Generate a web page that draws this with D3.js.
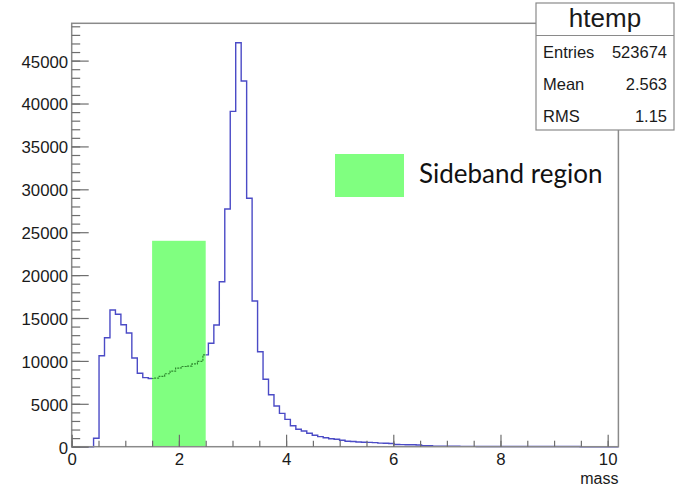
<!DOCTYPE html>
<html>
<head>
<meta charset="utf-8">
<script src="https://cdn.jsdelivr.net/npm/d3@7"></script>
<style>
    html, body { margin: 0; padding: 0; background: #ffffff; }
    svg { display: block; font-family: "Liberation Sans", Arial, sans-serif; }
</style>
</head>
<body>
<div id="chart"></div>
<script>
// ============================================================================
// HTEMP - mass histogram with sideband region
// ============================================================================

// Histogram binning (100 bins over the drawn x range)
const xRange = [0, 10.2];
const nBins = 100;

// Bin contents, bin 0 first
const counts = [
    0, 0, 0, 0, 980, 10600, 12700, 15930, 15430, 14220,
    13250, 10340, 8560, 8050, 7950, 8000, 8200, 8500, 8800, 9150,
    9350, 9400, 9650, 9950, 10700, 12050, 14180, 19230, 27700, 39090,
    47090, 42620, 28950, 16980, 11070, 7860, 6060, 4740, 3890, 3190,
    2450, 2030, 1830, 1560, 1330, 1170, 1050, 930, 860, 750,
    630, 600, 550, 520, 500, 480, 420, 400, 380, 260,
    240, 230, 220, 200, 130, 110, 70, 60, 60, 50,
    50, 40, 40, 40, 30, 25, 25, 20, 20, 20,
    20, 20, 20, 20, 15, 15, 15, 15, 15, 15,
    15, 15, 15, 0, 0, 0, 0, 0, 0, 0
];

// Sideband region marker
const sideband = [1.5, 2.5];
const sidebandHeight = 24000;

// Axis ticks
const xMajorTicks = [0, 2, 4, 6, 8, 10];
const xMinorTicks = d3.range(0, 10.21, 0.5);
const yMajorTicks = [0, 5000, 10000, 15000, 20000, 25000, 30000, 35000, 40000, 45000];
const yMinorTicks = d3.range(0, 49001, 1000);
const yMax = 49350;

// Stats box
const statsTitle = 'htemp';
const statsLabels = ['Entries', 'Mean', 'RMS'];
const statsValues = ['523674', '2.563', '1.15'];

const width = 679;
const height = 486;
const frame = { left: 71.7, right: 618.4, top: 23.3, bottom: 446.7 };

const COLORS = {
    line: '#4b4bc6',
    axis: '#8a8a8a',
    tick: '#6e6e6e',
    text: '#1a1a1a',
    green: '#80ff80',
    greenLine: '#2f8a2f'
};

const svg = d3.select('#chart').append('svg')
    .attr('width', width).attr('height', height);

svg.append('rect')
    .attr('width', width).attr('height', height)
    .attr('fill', '#ffffff');

const xScale = d3.scaleLinear().domain(xRange).range([frame.left, frame.right]);
const yScale = d3.scaleLinear().domain([0, yMax]).range([frame.bottom, frame.top]);

// Step outline of the histogram
const binWidth = (xRange[1] - xRange[0]) / nBins;
const stepPoints = [[xRange[0], 0]];
counts.forEach((c, i) => {
    const x0 = xRange[0] + i * binWidth;
    stepPoints.push([x0, c], [x0 + binWidth, c]);
});
stepPoints.push([xRange[1], 0]);

const stepLine = d3.line()
    .x(d => xScale(d[0]))
    .y(d => yScale(d[1]));

svg.append('path')
    .attr('d', stepLine(stepPoints))
    .attr('fill', 'none')
    .attr('stroke', COLORS.line)
    .attr('stroke-width', 1.4);

// Sideband band drawn over the histogram
const bandX = xScale(sideband[0]);
const bandW = xScale(sideband[1]) - xScale(sideband[0]);
const bandY = yScale(sidebandHeight);
const bandH = yScale(0) - yScale(sidebandHeight);

svg.append('rect')
    .attr('x', bandX).attr('y', bandY)
    .attr('width', bandW).attr('height', bandH)
    .attr('fill', COLORS.green);

svg.append('clipPath').attr('id', 'band-clip')
    .append('rect')
    .attr('x', bandX).attr('y', bandY)
    .attr('width', bandW).attr('height', bandH);

svg.append('path')
    .attr('d', stepLine(stepPoints))
    .attr('clip-path', 'url(#band-clip)')
    .attr('fill', 'none')
    .attr('stroke', COLORS.greenLine)
    .attr('stroke-width', 1.2)
    .attr('stroke-dasharray', '2,1');

// Frame
svg.append('rect')
    .attr('x', frame.left).attr('y', frame.top)
    .attr('width', frame.right - frame.left)
    .attr('height', frame.bottom - frame.top)
    .attr('fill', 'none')
    .attr('stroke', COLORS.axis)
    .attr('stroke-width', 1.5);

// Axes (ROOT style: ticks point inwards)
function styleAxis(g) {
    g.select('.domain').remove();
    g.selectAll('.tick line').attr('stroke', COLORS.tick).attr('stroke-width', 1.2);
    g.selectAll('.tick text')
        .attr('fill', COLORS.text)
        .style('font-size', '16.8px')
        .style('font-family', '"Liberation Sans", Arial, sans-serif');
}

svg.append('g')
    .attr('transform', `translate(0,${frame.bottom})`)
    .call(d3.axisBottom(xScale).tickValues(xMinorTicks).tickSize(-6).tickFormat(''))
    .call(styleAxis);

svg.append('g')
    .attr('transform', `translate(0,${frame.bottom})`)
    .call(d3.axisBottom(xScale).tickValues(xMajorTicks).tickSize(-12).tickPadding(6)
        .tickFormat(d3.format('d')))
    .call(styleAxis);

svg.append('g')
    .attr('transform', `translate(${frame.left},0)`)
    .call(d3.axisLeft(yScale).tickValues(yMinorTicks).tickSize(-8.5).tickFormat(''))
    .call(styleAxis);

svg.append('g')
    .attr('transform', `translate(${frame.left},0)`)
    .call(d3.axisLeft(yScale).tickValues(yMajorTicks).tickSize(-17).tickPadding(3.5)
        .tickFormat(d3.format('d')))
    .call(styleAxis)
    .selectAll('.tick text').attr('dy', '0.38em');

// X title
svg.append('text')
    .attr('x', frame.right).attr('y', 483.5)
    .attr('text-anchor', 'end')
    .attr('fill', COLORS.text)
    .style('font-size', '16px')
    .text('mass');

// Legend for the sideband
svg.append('rect')
    .attr('x', 335).attr('y', 154)
    .attr('width', 69).attr('height', 43)
    .attr('fill', COLORS.green);

svg.append('text')
    .attr('x', 419).attr('y', 183)
    .attr('fill', '#111')
    .style('font-family', 'Lato, "Open Sans", sans-serif')
    .style('font-size', '26px')
    .text('Sideband region');

// Stats box
const stats = svg.append('g');
stats.append('rect')
    .attr('x', 536).attr('y', 3)
    .attr('width', 138).attr('height', 127)
    .attr('fill', '#ffffff')
    .attr('stroke', COLORS.axis)
    .attr('stroke-width', 1.2);

stats.append('line')
    .attr('x1', 536).attr('x2', 674)
    .attr('y1', 35.5).attr('y2', 35.5)
    .attr('stroke', COLORS.axis)
    .attr('stroke-width', 1.2);

stats.append('text')
    .attr('x', 605).attr('y', 27)
    .attr('text-anchor', 'middle')
    .attr('fill', COLORS.text)
    .style('font-size', '26px')
    .text(statsTitle);

statsLabels.forEach((label, i) => {
    const y = 58 + i * 32;
    stats.append('text')
        .attr('x', 543).attr('y', y)
        .attr('fill', COLORS.text)
        .style('font-size', '16.5px')
        .text(label);
    stats.append('text')
        .attr('x', 667).attr('y', y)
        .attr('text-anchor', 'end')
        .attr('fill', COLORS.text)
        .style('font-size', '16.5px')
        .text(statsValues[i]);
});
</script>
</body>
</html>
